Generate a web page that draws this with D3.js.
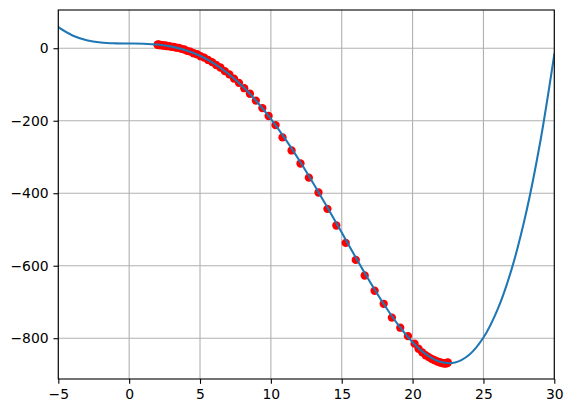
<!DOCTYPE html>
<html>
<head>
<meta charset="utf-8">
<script src="https://cdn.jsdelivr.net/npm/d3@7"></script>
<style>
  html, body { margin: 0; padding: 0; background: #fff; }
  svg { display: block; }
  text { font-family: "DejaVu Sans", sans-serif; font-size: 13.9px; fill: #000; }
</style>
</head>
<body>
<svg id="chart" width="572" height="413"></svg>
<script>
// ---- data ----
const curveX = [-5,-4,-3,-2,-1,0,1,2,3,4,5,6,7,8,9,10,11,12,13,14,15,16,17,18,19,20,21,22,23,24,25,26,27,28,29,30];
const curveY = [58,35.2,22.3,15.9,13.5,13,12.4,10.1,4.5,-5.4,-20.8,-42.2,-70.3,-105.1,-146.8,-195,-249.3,-309,-373,-440.2,-508.6,-578,-645,-707.8,-764.1,-811.2,-846.2,-865.9,-866.9,-845.6,-798.1,-720.3,-607.9,-456.1,-260.2,-17];

const pointX = [2.00,2.03,2.08,2.15,2.24,2.34,2.45,2.57,2.70,2.84,2.99,3.15,3.32,3.50,3.69,3.89,4.10,4.32,4.55,4.79,5.04,5.30,5.57,5.85,6.14,6.44,6.75,7.07,7.40,7.75,8.12,8.52,8.94,9.40,9.84,10.33,10.82,11.46,12.09,12.68,13.36,13.99,14.62,15.28,15.99,16.62,17.32,17.96,18.54,19.13,19.67,20.14,20.42,20.68,20.92,21.14,21.34,21.52,21.68,21.82,21.95,22.06,22.16,22.25,22.33,22.40,22.45,22.49];
const pointY = [9.5,10.6,9.0,9.9,8.1,8.8,7.0,7.5,5.6,5.9,4.0,3.9,1.5,1.2,-1.8,-3.5,-7.2,-9.3,-13.8,-16.6,-22.0,-26.0,-32.3,-38.2,-46.2,-53.2,-63.2,-72.0,-83.8,-95.5,-110.3,-125.5,-144.5,-165.0,-187.0,-212.0,-246,-282,-318,-357,-398,-443,-489,-537,-584,-627,-669,-705,-743,-771,-794,-815,-829,-839,-847,-852,-857,-860,-863,-865,-867,-868,-869,-869,-869,-869,-868,-867];

const xTicks = [-5,0,5,10,15,20,25,30];
const yTicks = [-800,-600,-400,-200,0];

// ---- layout ----
const svg = d3.select("#chart");
const L = 58.3, T = 10, W = 496, H = 369;
const x = d3.scaleLinear().domain([-5, 30]).range([L, L + W]);
const y = d3.scaleLinear().domain([-912.5, 105.5]).range([T + H, T]);
const fmt = d => d < 0 ? "\u2212" + Math.abs(d) : String(d);

const clipId = "plotclip";
svg.append("defs").append("clipPath").attr("id", clipId)
  .append("rect").attr("x", L).attr("y", T).attr("width", W).attr("height", H);

// grid
const grid = svg.append("g");
grid.selectAll("line.gx").data(xTicks).join("line")
  .attr("x1", d => x(d)).attr("x2", d => x(d)).attr("y1", T).attr("y2", T + H)
  .attr("stroke", "#b0b0b0").attr("stroke-width", 1.1);
grid.selectAll("line.gy").data(yTicks).join("line")
  .attr("x1", L).attr("x2", L + W).attr("y1", d => y(d)).attr("y2", d => y(d))
  .attr("stroke", "#b0b0b0").attr("stroke-width", 1.1);

const plot = svg.append("g").attr("clip-path", `url(#${clipId})`);

// scatter
plot.selectAll("circle").data(pointX.map((d, i) => [d, pointY[i]])).join("circle")
  .attr("cx", d => x(d[0])).attr("cy", d => y(d[1])).attr("r", 4.15)
  .attr("fill", "#ff0000");

// fitted curve
const line = d3.line().x(d => x(d[0])).y(d => y(d[1])).curve(d3.curveCatmullRom.alpha(0.5));
plot.append("path").datum(curveX.map((d, i) => [d, curveY[i]]))
  .attr("d", line).attr("fill", "none").attr("stroke", "#1f77b4")
  .attr("stroke-width", 2.08).attr("stroke-linecap", "square");

// axes
const xAxis = d3.axisBottom(x).tickValues(xTicks).tickFormat(fmt).tickSize(4.86).tickPadding(4.86);
const yAxis = d3.axisLeft(y).tickValues(yTicks).tickFormat(fmt).tickSize(4.86).tickPadding(4.86);
const gx = svg.append("g").attr("transform", `translate(0,${T + H})`).call(xAxis);
const gy = svg.append("g").attr("transform", `translate(${L},0)`).call(yAxis);
[gx, gy].forEach(g => {
  g.select(".domain").remove();
  g.selectAll(".tick line").attr("stroke", "#000").attr("stroke-width", 1.1);
  g.selectAll(".tick text").attr("font-family", "DejaVu Sans").attr("font-size", 13.9).attr("fill", "#000");
});
gx.selectAll(".tick text").attr("dy", "0.73em");

// spines
svg.append("rect").attr("x", L).attr("y", T).attr("width", W).attr("height", H)
  .attr("fill", "none").attr("stroke", "#000").attr("stroke-width", 1.1);
</script>
</body>
</html>
